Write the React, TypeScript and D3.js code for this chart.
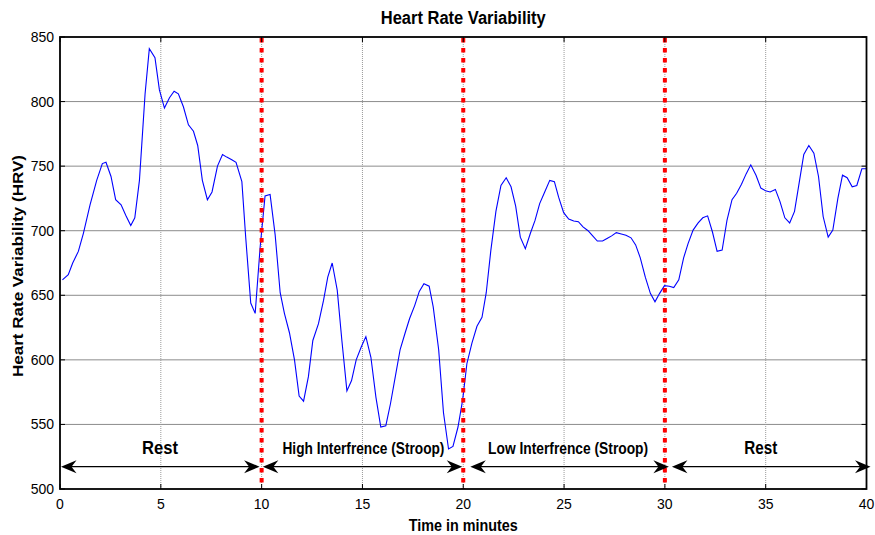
import React from "react";
import * as d3 from "d3";

// Heart rate variability sampled over a 40 minute session
const minutes = [
  0.12, 0.41, 0.63, 0.91, 1.16, 1.49, 1.82, 2.1, 2.28, 2.53, 2.76, 3.03, 3.26, 3.51, 3.71, 3.94, 4.22, 4.43, 4.71, 4.93,
  5.18, 5.43, 5.66, 5.87, 6.12, 6.37, 6.62, 6.83, 7.06, 7.31, 7.54, 7.81, 8.06, 8.27, 8.52, 8.73, 9.02, 9.21, 9.46, 9.68,
  9.93, 10.17, 10.42, 10.67, 10.92, 11.13, 11.38, 11.63, 11.86, 12.08, 12.32, 12.54, 12.82, 13.07, 13.28, 13.5, 13.75,
  13.98, 14.23, 14.46, 14.69, 14.94, 15.17, 15.42, 15.67, 15.91, 16.16, 16.39, 16.63, 16.87, 17.12, 17.34, 17.59, 17.82,
  18.05, 18.31, 18.51, 18.78, 19.02, 19.27, 19.49, 19.74, 19.97, 20.18, 20.43, 20.68, 20.93, 21.14, 21.37, 21.62, 21.87,
  22.13, 22.37, 22.6, 22.83, 23.08, 23.33, 23.56, 23.79, 24.04, 24.29, 24.52, 24.73, 24.98, 25.23, 25.48, 25.71, 25.94,
  26.19, 26.42, 26.65, 26.91, 27.13, 27.36, 27.59, 27.84, 28.07, 28.32, 28.55, 28.78, 29.03, 29.28, 29.51, 29.74, 29.98,
  30.22, 30.44, 30.69, 30.93, 31.15, 31.4, 31.65, 31.88, 32.12, 32.36, 32.59, 32.84, 33.08, 33.33, 33.56, 33.8, 34.03,
  34.26, 34.52, 34.76, 34.99, 35.22, 35.48, 35.71, 35.95, 36.19, 36.43, 36.66, 36.89, 37.14, 37.39, 37.62, 37.85, 38.1,
  38.33, 38.58, 38.81, 39.04, 39.29, 39.52, 39.77, 40.0,
];
const hrv = [
  662, 666, 675, 684, 698, 720, 739, 752, 753, 742, 724, 720, 712, 704, 710, 739, 806, 841, 834, 809,
  795, 803, 808, 806, 796, 782, 777, 766, 739, 724, 730, 750, 759, 757, 755, 753, 738, 695, 644, 636,
  688, 727, 728, 697, 652, 636, 621, 600, 572, 568, 587, 615, 628, 646, 664, 675, 654,
  615, 576, 584, 600, 610, 618, 602, 571, 548, 549, 566, 587, 608, 621, 632, 642, 653,
  659, 657, 641, 608, 559, 531, 533, 548, 569, 597, 613, 626, 633, 652, 685, 715, 735,
  741, 734, 719, 695, 686, 698, 708, 721, 730, 739, 738, 726, 714, 709, 707.5, 707, 703,
  700, 696, 692, 692, 694, 696, 698.5, 697.5, 696.5, 694.5, 689, 679, 664, 651.5, 645, 651.5, 657.5,
  657, 656, 662, 679, 690, 700.5, 706, 710, 711.5, 699, 684, 685, 708, 724, 729, 736, 744,
  751, 743, 733, 731, 730, 732, 722.5, 710, 706, 715, 737, 759, 766, 760, 742, 711, 695,
  700.5, 725, 743, 741, 734, 735, 748, 748,
];

const xTicks = [0, 5, 10, 15, 20, 25, 30, 35, 40];
const yTicks = [500, 550, 600, 650, 700, 750, 800, 850];
const phaseBoundaries = [10, 20, 30];

// Phase annotations: label, centre (minutes), arrow extent (minutes)
const phaseLabels = ["Rest", "High Interfrence (Stroop)", "Low Interfrence (Stroop)", "Rest"];
const phaseCenters = [4.96, 15.05, 25.2, 34.76];
const phaseLabelWidths = [36, 162, 160, 33];
const phaseLabelSizes = [18, 16, 16, 18];
const arrowStarts = [0.05, 10.06, 20.35, 30.35];
const arrowEnds = [9.9, 19.95, 30.2, 40.2];
const arrowLevel = 517.3;

const W = 875;
const H = 535;
const FONT = "Arial, 'Liberation Sans', Helvetica, sans-serif";

export default function App() {
  const x = d3.scaleLinear().domain([0, 40]).range([60, 866.5]);
  const y = d3.scaleLinear().domain([500, 850]).range([489, 37]);
  const [x0, x1] = x.range();
  const [yB, yT] = y.range();

  const pts: [number, number][] = minutes.map((m, i) => [m, hrv[i]]);
  const line = d3
    .line<[number, number]>()
    .x((d) => x(d[0]))
    .y((d) => y(d[1]));

  // notched arrowhead pointing in +x direction, tip at origin
  const head = "M0,0 L-15.5,-6.5 L-10.5,0 L-15.5,6.5 Z";
  const ay = y(arrowLevel);

  return (
    <svg
      width={W}
      height={H}
      style={{ position: "absolute", left: 0, top: 0, background: "#fff" }}
      fontFamily={FONT}
    >
      <rect x={0} y={0} width={W} height={H} fill="#fff" />

      {/* grid */}
      {yTicks
        .filter((v) => v > 500 && v < 850)
        .map((v) => (
          <line key={"gy" + v} x1={x0} x2={x1} y1={y(v)} y2={y(v)} stroke="#8c8c8c" strokeWidth={1} />
        ))}
      {xTicks
        .filter((v) => v > 0 && v < 40)
        .map((v) => (
          <line key={"gx" + v} x1={x(v)} x2={x(v)} y1={yB} y2={yT} stroke="#9a9a9a" strokeWidth={1} strokeDasharray="1 1" />
        ))}

      {/* series */}
      <path d={line(pts) ?? ""} fill="none" stroke="#0000ff" strokeWidth={1.1} />

      {/* phase boundaries */}
      {phaseBoundaries.map((b) => (
        <line key={"pb" + b} x1={x(b)} x2={x(b)} y1={yT + 1} y2={yB} stroke="#ff0000" strokeWidth={4} strokeDasharray="4.5 5.5" />
      ))}

      {/* phase arrows */}
      {arrowStarts.map((s, i) => {
        const xs = x(s);
        const xe = x(arrowEnds[i]);
        return (
          <g key={"ar" + i}>
            <line x1={xs + 8} x2={xe - 8} y1={ay} y2={ay} stroke="#000" strokeWidth={1.3} />
            <path d={head} transform={`translate(${xe},${ay})`} fill="#000" />
            <path d={head} transform={`translate(${xs},${ay}) rotate(180)`} fill="#000" />
          </g>
        );
      })}
      {phaseLabels.map((t, i) => (
        <text
          key={"pl" + i}
          x={x(phaseCenters[i])}
          y={454}
          textAnchor="middle"
          fontWeight="bold"
          fontSize={phaseLabelSizes[i]}
          textLength={phaseLabelWidths[i]}
          lengthAdjust="spacingAndGlyphs"
          fill="#000"
        >
          {t}
        </text>
      ))}

      {/* ticks */}
      {xTicks.map((v) => (
        <g key={"tx" + v}>
          <line x1={x(v)} x2={x(v)} y1={yB} y2={yB - 5} stroke="#000" strokeWidth={1} />
          <line x1={x(v)} x2={x(v)} y1={yT} y2={yT + 5} stroke="#000" strokeWidth={1} />
          <text x={x(v)} y={509} textAnchor="middle" fontSize={14} fill="#000">
            {v}
          </text>
        </g>
      ))}
      {yTicks.map((v) => (
        <g key={"ty" + v}>
          <line x1={x0} x2={x0 + 5} y1={y(v)} y2={y(v)} stroke="#000" strokeWidth={1} />
          <line x1={x1} x2={x1 - 5} y1={y(v)} y2={y(v)} stroke="#000" strokeWidth={1} />
          <text x={54} y={y(v)} dy="0.36em" textAnchor="end" fontSize={14} fill="#000">
            {v}
          </text>
        </g>
      ))}

      {/* frame */}
      <rect x={x0} y={yT} width={x1 - x0} height={yB - yT} fill="none" stroke="#000" strokeWidth={1.8} />

      {/* titles */}
      <text
        x={(x0 + x1) / 2}
        y={24}
        textAnchor="middle"
        fontWeight="bold"
        fontSize={17.5}
        textLength={165}
        lengthAdjust="spacingAndGlyphs"
      >
        Heart Rate Variability
      </text>
      <text
        x={(x0 + x1) / 2}
        y={531}
        textAnchor="middle"
        fontWeight="bold"
        fontSize={16}
        textLength={109}
        lengthAdjust="spacingAndGlyphs"
      >
        Time in minutes
      </text>
      <text
        transform={`translate(23,266) rotate(-90)`}
        textAnchor="middle"
        fontWeight="bold"
        fontSize={15.5}
        textLength={222}
        lengthAdjust="spacingAndGlyphs"
      >
        Heart Rate Variability (HRV)
      </text>
    </svg>
  );
}
